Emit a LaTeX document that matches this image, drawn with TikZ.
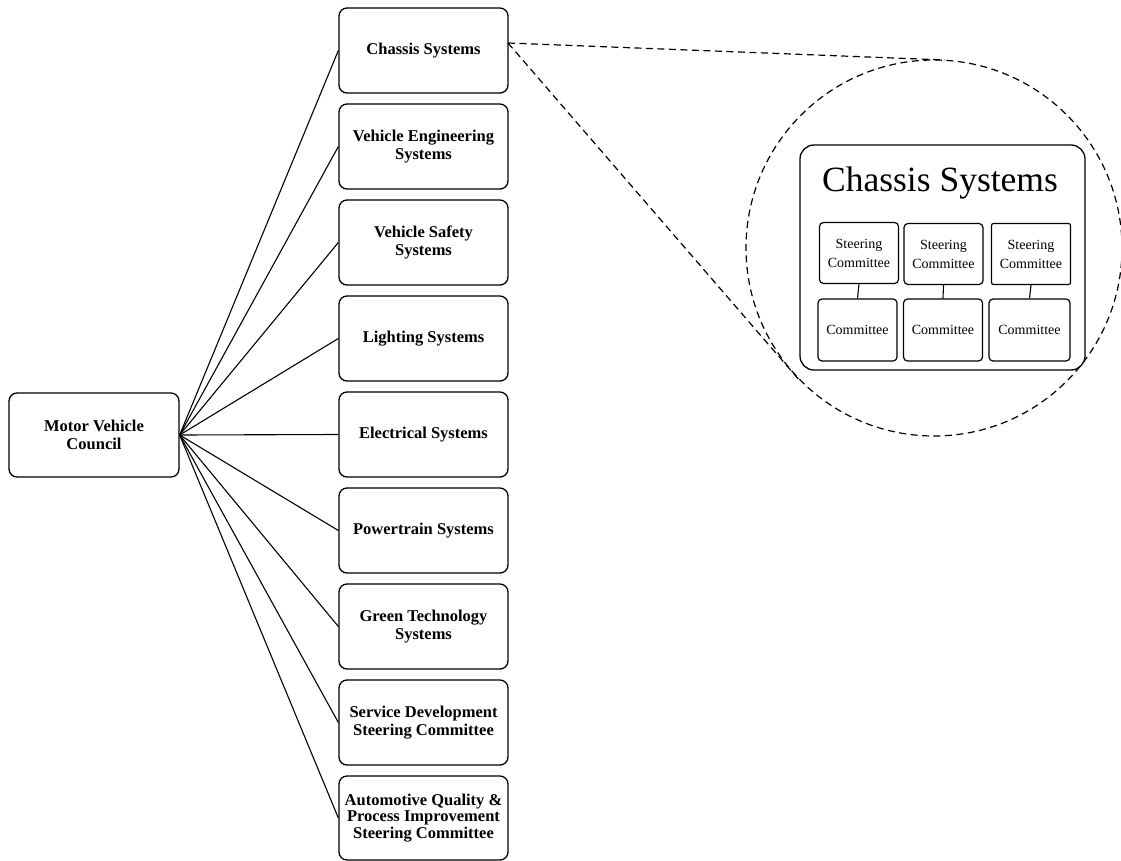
\documentclass[tikz,border=0pt]{standalone}
\usepackage{fontspec}
\setmainfont{Liberation Serif}
\begin{document}
\begin{tikzpicture}[x=1pt,y=-1pt,
  sysbox/.style={draw, line width=1.3pt, rounded corners=8pt, minimum width=169pt, minimum height=85pt, align=center, font=\bfseries\fontsize{16.5}{17.5}\selectfont, inner sep=2pt},
  link/.style={line width=1.1pt},
  zoomline/.style={line width=1.2pt, dash pattern=on 7pt off 4.5pt},
  smallbox/.style={draw, line width=1.2pt, rounded corners=4pt, minimum width=79pt, minimum height=61pt, align=center, font=\fontsize{14}{19}\selectfont, inner sep=1pt}]
\useasboundingbox (0,0) rectangle (1121,861);
\node[sysbox, minimum width=170pt, minimum height=84pt] (mvc) at (94,435) {Motor Vehicle\\Council};
\node[sysbox] (b0) at (423.5,50.5) {Chassis Systems};
\node[sysbox] (b1) at (423.5,146.5) {Vehicle Engineering\\Systems};
\node[sysbox] (b2) at (423.5,242.5) {Vehicle Safety\\Systems};
\node[sysbox] (b3) at (423.5,338.5) {Lighting Systems};
\node[sysbox] (b4) at (423.5,434.5) {Electrical Systems};
\node[sysbox] (b5) at (423.5,530.5) {Powertrain Systems};
\node[sysbox] (b6) at (423.5,626.5) {Green Technology\\Systems};
\node[sysbox] (b7) at (423.5,722.5) {Service Development\\Steering Committee};
\node[sysbox, minimum height=84pt, font=\bfseries\fontsize{16.5}{16.5}\selectfont] (b8) at (423.5,818) {Automotive Quality \&\\Process Improvement\\Steering Committee};
\foreach \i in {0,...,8} \draw[link] (mvc.east) -- (b\i.west);
% zoom circle
\node[circle, draw, zoomline, minimum size=376pt, inner sep=0pt] (zc) at (934,248) {};
\coordinate (zs) at (508,43);
\coordinate (zt) at (945,60);
\draw[zoomline] (zs) -- (zt);
\draw[zoomline] (zs) -- (zc.224);
% inner box
\node[draw, line width=1.3pt, rounded corners=14pt, minimum width=285pt, minimum height=225pt] (cs) at (942.5,257.5) {};
\node[font=\fontsize{35.5}{40}\selectfont] (cst) at (940,183) {Chassis Systems};
\node[smallbox] (s1) at (859,253) {Steering\\Committee};
\node[smallbox] (s2) at (943.5,254) {Steering\\Committee};
\node[smallbox, rounded corners=2pt] (s3) at (1031,254) {Steering\\Committee};
\node[smallbox, minimum height=62pt] (c1) at (857.5,330) {Committee};
\node[smallbox, minimum height=62pt] (c2) at (943,330) {Committee};
\node[smallbox, minimum height=62pt, minimum width=81pt] (c3) at (1029.5,330) {Committee};
\foreach \i in {1,2,3} \draw[line width=1.1pt] (s\i.south) -- (c\i.north);
\end{tikzpicture}
\end{document}
